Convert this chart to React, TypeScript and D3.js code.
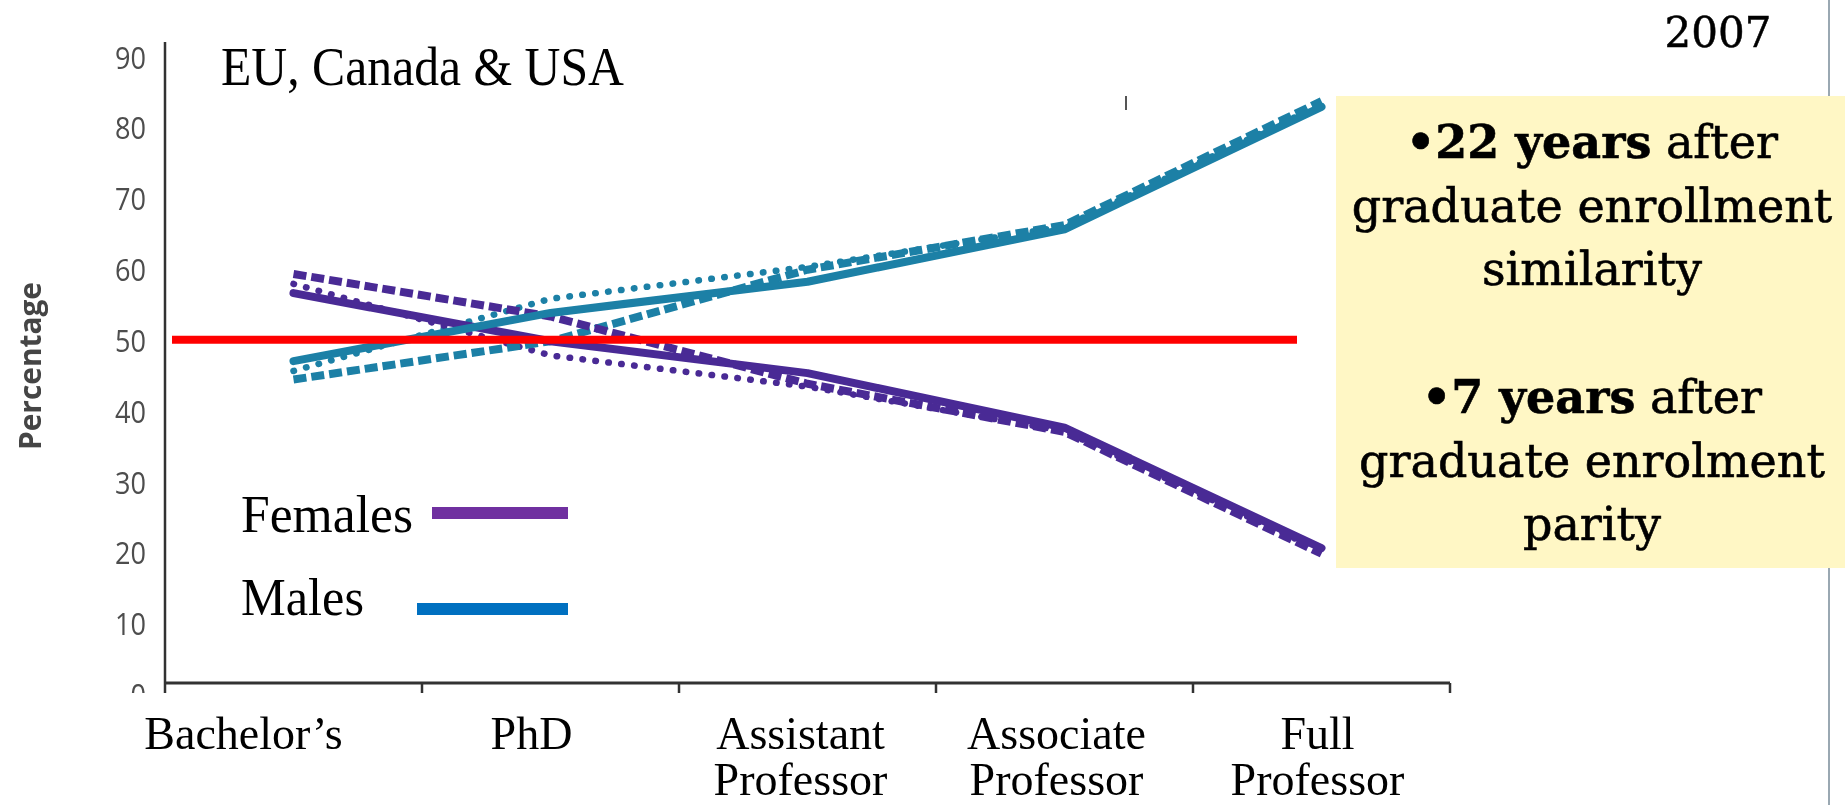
import React from "react";
import * as d3 from "d3";

// Career stages along the academic ladder
const categories = ["Bachelor’s", "PhD", "Assistant Professor", "Associate Professor", "Full Professor"];
const categoryLines = [["Bachelor’s"], ["PhD"], ["Assistant", "Professor"], ["Associate", "Professor"], ["Full", "Professor"]];

// Share of women / men at each stage (%), three regional series each
const femalesSolid = [56.6, 49.8, 45.3, 37.6, 20.6];
const femalesDashed = [59.3, 53.3, 43.8, 37.0, 19.8];
const femalesDotted = [57.9, 47.8, 43.4, 37.1, 20.2];
const malesSolid = [47.0, 53.8, 58.2, 65.6, 82.9];
const malesDashed = [44.4, 49.8, 59.9, 66.2, 83.7];
const malesDotted = [45.6, 55.8, 60.3, 66.0, 83.2];

const yTicks = [0, 10, 20, 30, 40, 50, 60, 70, 80, 90];
const parityLevel = 50;

const legendItems = ["Females", "Males"];
const noteLines = [
  { bold: "•22 years", rest: " after" },
  { bold: "", rest: "graduate enrollment" },
  { bold: "", rest: "similarity" },
  { bold: "", rest: "" },
  { bold: "•7 years", rest: " after" },
  { bold: "", rest: "graduate enrolment" },
  { bold: "", rest: "parity" },
];
const yearLabel = "2007";
const regionTitle = "EU, Canada & USA";
const yAxisTitle = "Percentage";

const PURPLE = "#4a2a95";
const TEAL = "#1b80a6";

const series = [
  { values: malesDotted, color: TEAL, kind: "dotted" },
  { values: femalesDotted, color: PURPLE, kind: "dotted" },
  { values: malesDashed, color: TEAL, kind: "dashed" },
  { values: femalesDashed, color: PURPLE, kind: "dashed" },
  { values: femalesSolid, color: PURPLE, kind: "solid" },
  { values: malesSolid, color: TEAL, kind: "solid" },
];

const W = 1845;
const H = 805;
const AXIS_LEFT = 165;
const AXIS_RIGHT = 1450;
const AXIS_Y = 683;
const AXIS_TOP = 42;

export default function App() {
  const x = d3.scaleBand<string>().domain(categories).range([AXIS_LEFT, AXIS_RIGHT]);
  const y = d3.scaleLinear().domain([0, 90]).range([694, 56.5]);
  const cx = (c: string) => (x(c) as number) + x.bandwidth() / 2;

  const line = d3
    .line<number>()
    .x((_, i) => cx(categories[i]))
    .y((v) => y(v));

  const styleFor = (kind: string) => {
    if (kind === "dashed") return { strokeWidth: 8, strokeDasharray: "13 5", strokeLinecap: "butt" as const };
    if (kind === "dotted") return { strokeWidth: 6.5, strokeDasharray: "0.5 12.5", strokeLinecap: "round" as const };
    return { strokeWidth: 8, strokeDasharray: undefined, strokeLinecap: "round" as const };
  };

  const labelDx = [-50, -19, -7, -8, -4];
  const serifCond = "'Liberation Serif', 'Times New Roman', serif";
  const serifWide = "'DejaVu Serif', serif";

  return (
    <svg
      width={W}
      height={H}
      viewBox={`0 0 ${W} ${H}`}
      style={{ position: "absolute", left: 0, top: 0, background: "#ffffff" }}
    >
      <defs>
        <filter id="soft" x="-5%" y="-5%" width="110%" height="110%">
          <feGaussianBlur stdDeviation="0.6" />
        </filter>
      </defs>

      {/* thin frame line at the right edge */}
      <line x1={1829} x2={1829} y1={0} y2={H} stroke="#9aa8b2" strokeWidth={2} />

      <g filter="url(#soft)">
        {/* y axis */}
        <line x1={AXIS_LEFT} x2={AXIS_LEFT} y1={AXIS_TOP} y2={693} stroke="#333" strokeWidth={2.5} />
        {/* x axis */}
        <line x1={AXIS_LEFT} x2={AXIS_RIGHT} y1={AXIS_Y} y2={AXIS_Y} stroke="#333" strokeWidth={3} />
        {categories.map((c) => (
          <line
            key={c}
            x1={(x(c) as number) + x.bandwidth()}
            x2={(x(c) as number) + x.bandwidth()}
            y1={AXIS_Y}
            y2={693}
            stroke="#333"
            strokeWidth={2.5}
          />
        ))}

        {yTicks.map((t) => {
          const label = String(t);
          return (
            <text
              key={t}
              x={146}
              y={y(t)}
              textAnchor="end"
              dominantBaseline="central"
              fontFamily="'Open Sans', sans-serif"
              fontWeight={500}
              fontSize={31}
              fill="#4d4d4d"
              textLength={label.length * 15.5}
              lengthAdjust="spacingAndGlyphs"
            >
              {label}
            </text>
          );
        })}

        <text
          transform={`translate(41, 366) rotate(-90)`}
          textAnchor="middle"
          fontFamily="'Open Sans', sans-serif"
          fontWeight={700}
          fontSize={30}
          fill="#444"
          textLength={168}
          lengthAdjust="spacingAndGlyphs"
        >
          {yAxisTitle}
        </text>

        {series.map((s, i) => {
          const st = styleFor(s.kind);
          return (
            <path
              key={i}
              d={line(s.values) as string}
              fill="none"
              stroke={s.color}
              strokeWidth={st.strokeWidth}
              strokeDasharray={st.strokeDasharray}
              strokeLinecap={st.strokeLinecap}
              strokeLinejoin="round"
            />
          );
        })}

        {/* small stray mark above the chart */}
        <line x1={1126} x2={1126} y1={96} y2={110} stroke="#555" strokeWidth={2} />
      </g>

      {/* white panel that holds the stage labels */}
      <rect x={124} y={693} width={1340} height={112} fill="#ffffff" />

      {/* parity reference line */}
      <line x1={172} x2={1297} y1={y(parityLevel)} y2={y(parityLevel)} stroke="#ff0000" strokeWidth={8} />

      <text x={221} y={85} fontFamily={serifCond} fontSize={54} fill="#000" textLength={403} lengthAdjust="spacingAndGlyphs">
        {regionTitle}
      </text>

      {categoryLines.map((lines, i) => (
        <text
          key={categories[i]}
          x={cx(categories[i]) + labelDx[i]}
          y={749}
          textAnchor="middle"
          fontFamily={serifCond}
          fontSize={46}
          fill="#000"
        >
          {lines.map((ln, j) => (
            <tspan key={j} x={cx(categories[i]) + labelDx[i]} y={749 + j * 46}>
              {ln}
            </tspan>
          ))}
        </text>
      ))}

      {/* legend */}
      {legendItems.map((name, i) => (
        <g key={name}>
          <text
            x={241}
            y={i === 0 ? 532 : 615}
            fontFamily={serifCond}
            fontSize={53}
            fill="#000"
            textLength={i === 0 ? 172 : 123}
            lengthAdjust="spacingAndGlyphs"
          >
            {name}
          </text>
          <line
            x1={i === 0 ? 432 : 417}
            x2={568}
            y1={i === 0 ? 513 : 609}
            y2={i === 0 ? 513 : 609}
            stroke={i === 0 ? "#7030a0" : "#0070c0"}
            strokeWidth={12}
          />
        </g>
      ))}

      <text
        x={1718}
        y={47}
        textAnchor="middle"
        fontFamily={serifWide}
        fontSize={42}
        fill="#000"
        stroke="#000"
        strokeWidth={0.5}
      >
        {yearLabel}
      </text>

      {/* note box */}
      <rect x={1336} y={96} width={W - 1336} height={472} fill="#fff7c5" />
      {noteLines.map((ln, i) =>
        ln.bold || ln.rest ? (
          <text
            key={i}
            x={1592}
            y={158 + i * 63.7}
            textAnchor="middle"
            fontFamily={serifWide}
            fontSize={46}
            fill="#000"
            stroke="#000"
            strokeWidth={0.6}
          >
            {ln.bold ? <tspan fontWeight={700}>{ln.bold}</tspan> : null}
            <tspan>{ln.rest}</tspan>
          </text>
        ) : null
      )}
    </svg>
  );
}
